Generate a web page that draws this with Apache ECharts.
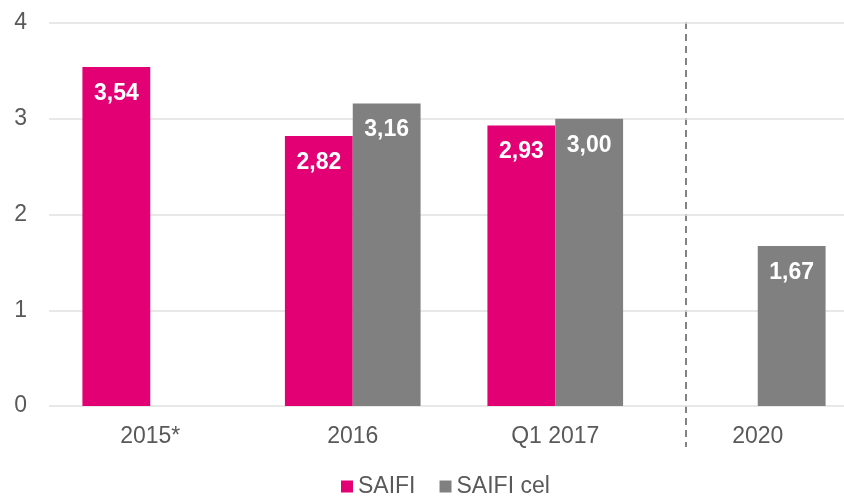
<!DOCTYPE html>
<html>
<head>
<meta charset="utf-8">
<script src="https://cdn.jsdelivr.net/npm/echarts@6/dist/echarts.min.js"></script>
<style>
  html, body { margin: 0; padding: 0; background: #fff; overflow: hidden; }
  #chart { width: 860px; height: 496px; }
</style>
</head>
<body>
<div id="chart"></div>
<script>
const categories = ['2015*', '2016', 'Q1 2017', '2020']
const saifi = [3.54, 2.82, 2.93, null]
const saifiCel = [null, 3.16, 3.00, 1.67]
const yTicks = [0, 1, 2, 3, 4]

const fmt = (p) => p.value == null ? '' : p.value.toFixed(2).replace('.', ',')
const font = 'Liberation Sans, Arial, sans-serif'

let myChart = echarts.init(document.getElementById('chart'))
let option = {
  animation: false,
  textStyle: { fontFamily: font },
  grid: { left: 49, top: 23, width: 810, height: 383 },
  legend: {
    top: 470,
    left: 336,
    itemWidth: 12,
    itemHeight: 12,
    itemGap: 24,
    icon: 'rect',
    textStyle: { fontSize: 23, lineHeight: 23, color: '#595959', fontFamily: font },
    data: ['SAIFI', 'SAIFI cel']
  },
  xAxis: {
    type: 'category',
    data: categories,
    axisLine: { show: false },
    axisTick: { show: false },
    axisLabel: { fontSize: 23, color: '#595959', margin: 19, fontFamily: font }
  },
  yAxis: {
    type: 'value',
    min: yTicks[0],
    max: yTicks[yTicks.length - 1],
    interval: 1,
    axisLabel: { fontSize: 23, color: '#595959', margin: 22, fontFamily: font },
    splitLine: { lineStyle: { color: '#e0e0e0', width: 1.5 } }
  },
  graphic: [{
    type: 'line',
    shape: { x1: 686, y1: 22, x2: 686, y2: 447 },
    style: { stroke: '#595959', lineWidth: 1.5, lineDash: [7, 5] }
  }],
  series: [
    {
      name: 'SAIFI',
      type: 'bar',
      data: saifi,
      barGap: '0%',
      barCategoryGap: '33%',
      itemStyle: { color: '#E20074' },
      label: {
        show: true, position: 'insideTop', distance: 15,
        color: '#fff', fontWeight: 'bold', fontSize: 23, formatter: fmt, fontFamily: font
      }
    },
    {
      name: 'SAIFI cel',
      type: 'bar',
      data: saifiCel,
      itemStyle: { color: '#808080' },
      label: {
        show: true, position: 'insideTop', distance: 15,
        color: '#fff', fontWeight: 'bold', fontSize: 23, formatter: fmt, fontFamily: font
      }
    }
  ]
}
myChart.setOption(option)
</script>
</body>
</html>
